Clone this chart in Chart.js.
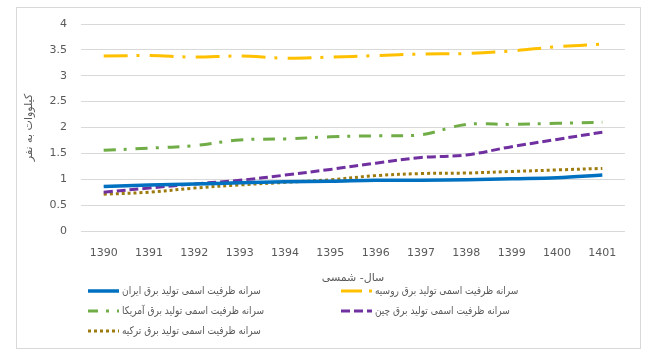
<!DOCTYPE html>
<html>
<head>
<meta charset="utf-8">
<script src="https://cdn.jsdelivr.net/npm/chart.js@4/dist/chart.umd.min.js"></script>
<style>
html,body{margin:0;padding:0;background:#fff;}
#wrap{position:relative;width:662px;height:363px;}
</style>
</head>
<body>
<div id="wrap"><canvas id="c" width="662" height="363"></canvas></div>
<script>
const years = ['1390','1391','1392','1393','1394','1395','1396','1397','1398','1399','1400','1401'];
const iran   = [0.86,0.89,0.91,0.93,0.95,0.96,0.98,0.98,0.99,1.01,1.03,1.08];
const russia = [3.38,3.39,3.36,3.38,3.34,3.36,3.39,3.42,3.43,3.48,3.56,3.61];
const usa    = [1.56,1.60,1.65,1.76,1.78,1.82,1.84,1.86,2.06,2.06,2.08,2.10];
const china  = [0.75,0.83,0.91,0.98,1.08,1.19,1.31,1.42,1.47,1.63,1.77,1.91];
const turkey = [0.71,0.75,0.83,0.89,0.94,0.99,1.07,1.11,1.12,1.15,1.18,1.21];
const seriesNames = [
  'سرانه ظرفیت اسمی تولید برق ایران',
  'سرانه ظرفیت اسمی تولید برق روسیه',
  'سرانه ظرفیت اسمی تولید برق آمریکا',
  'سرانه ظرفیت اسمی تولید برق چین',
  'سرانه ظرفیت اسمی تولید برق ترکیه'
];
const xTitle = 'سال- شمسی';
const yTitle = 'کیلووات به نفر';

const grey = '#595959';
const gridC = '#d9d9d9';

function ds(label, data, color, dash, width, legendDash){
  return {label, data, borderColor:color, backgroundColor:color, borderDash:dash,
    borderWidth:width, pointRadius:0, pointHoverRadius:0, tension:0.35, fill:false,
    borderCapStyle:'butt', legendDash: legendDash || dash};
}

const legendPos = [
  {x:88, y:291}, {x:341, y:291},
  {x:88, y:311}, {x:341, y:311},
  {x:88, y:331}
];

const framePlugin = {
  id:'frame',
  beforeDraw(chart){
    const ctx = chart.ctx;
    ctx.save();
    ctx.fillStyle = '#fff';
    ctx.fillRect(0,0,chart.width,chart.height);
    ctx.strokeStyle = gridC;
    ctx.lineWidth = 1;
    ctx.strokeRect(16.5,7.5,624,341);
    ctx.restore();
  },
  afterDraw(chart){
    const ctx = chart.ctx;
    ctx.save();
    chart.data.datasets.forEach((d,i)=>{
      const p = legendPos[i];
      ctx.strokeStyle = d.borderColor;
      ctx.lineWidth = d.borderWidth;
      ctx.setLineDash(d.legendDash || []);
      ctx.beginPath();
      ctx.moveTo(p.x, p.y);
      ctx.lineTo(p.x+31, p.y);
      ctx.stroke();
      ctx.setLineDash([]);
      ctx.fillStyle = grey;
      ctx.font = '10.5px "DejaVu Sans"';
      ctx.textBaseline = 'middle';
      ctx.textAlign = 'left';
      ctx.save();
      ctx.translate(p.x+34, p.y);
      ctx.scale(0.86, 1);
      ctx.fillText(d.label, 0, 0);
      ctx.restore();
    });
    ctx.restore();
  }
};

new Chart(document.getElementById('c'), {
  type:'line',
  data:{
    labels: years,
    datasets:[
      ds(seriesNames[0], iran, '#0070C0', [], 3.5),
      ds(seriesNames[1], russia, '#FFC000', [24,9,3,10], 3, [21,7,3,10]),
      ds(seriesNames[2], usa, '#70AD47', [12,8,3,9], 3, [10,8,3,8]),
      ds(seriesNames[3], china, '#7030A0', [9,4], 3),
      ds(seriesNames[4], turkey, '#9E7B0F', [3,3], 3)
    ]
  },
  options:{
    responsive:false,
    animation:false,
    layout:{padding:{left:20,right:37,top:24,bottom:0}},
    plugins:{legend:{display:false}, tooltip:{enabled:false}},
    scales:{
      x:{
        offset:true,
        grid:{display:false, drawTicks:false},
        border:{display:false},
        ticks:{color:grey, font:{family:'"DejaVu Sans"', size:11}, padding:16, maxRotation:0, autoSkip:false},
        title:{display:true, text:xTitle, color:grey, font:{family:'"DejaVu Sans"', size:11}, padding:{top:0,bottom:78}},
        afterFit(s){ s.height = 132; }
      },
      y:{
        min:0, max:4,
        grid:{color:gridC, lineWidth:1, drawTicks:false},
        border:{display:false},
        ticks:{stepSize:0.5, color:grey, font:{family:'"DejaVu Sans"', size:11}, padding:14,
          callback:(v)=>String(Math.round(v*10)/10)},
        title:{display:true, text:yTitle, color:grey, font:{family:'"DejaVu Sans"', size:11}, padding:{top:3,bottom:0}},
        afterFit(s){ s.width = 61; }
      }
    }
  },
  plugins:[framePlugin]
});
</script>
</body>
</html>
